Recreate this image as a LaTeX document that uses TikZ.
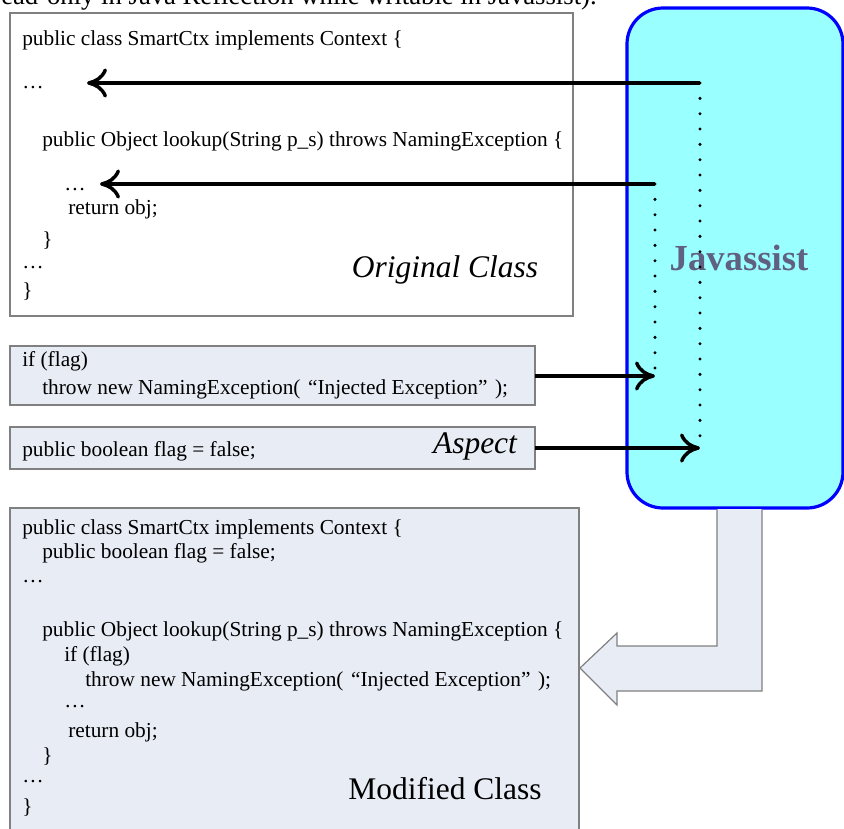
\documentclass[tikz,border=0pt]{standalone}
\usepackage{fontspec}
\setmainfont{Liberation Serif}
\usetikzlibrary{arrows.meta}
\definecolor{boxfill}{RGB}{232,236,245}
\definecolor{boxline}{RGB}{128,128,128}
\definecolor{jfill}{RGB}{153,255,255}
\definecolor{jline}{RGB}{0,0,255}
\definecolor{jtext}{RGB}{96,96,128}
\tikzset{
  code/.style={anchor=base west,inner sep=0pt,font=\fontsize{16}{19}\selectfont},
  biglabel/.style={anchor=base,inner sep=0pt,font=\fontsize{23.6}{28}\selectfont},
  classbox/.style={draw=boxline,line width=0.9pt},
  ptr/.style={line width=2.6pt,-{Computer Modern Rightarrow[length=15pt,width=22pt,line width=2.6pt]}},
  dotline/.style={line width=2.5pt,line cap=round,dash pattern=on 0pt off 11.5pt},
}
\begin{document}
\begin{tikzpicture}[x=0.75pt,y=-0.75pt]
\useasboundingbox (0,0) rectangle (844,829);
% cut caption at the top
\node[anchor=base west,inner sep=0pt,font=\fontsize{20}{24}\selectfont] (cap) at (1,4) {ead-only in Java Reflection while writable in Javassist).};
% boxes
\draw[classbox,fill=white] (10,13) rectangle (573,316);
\node[inner sep=0pt,minimum width=563*0.75pt] (orig) at (291.5,164) {};
\draw[jline,fill=jfill,line width=2.4pt,rounded corners=27pt] (627,8) rectangle (843,508);
\node[inner sep=0pt,text=jtext,font=\fontsize{27.5}{30}\selectfont\bfseries] (jav) at (739,258) {Javassist};
\draw[classbox,fill=boxfill] (10,346) rectangle (535,405);
\node[inner sep=0pt,minimum width=525*0.75pt,minimum height=59*0.75pt] (asp1) at (272.5,375.5) {};
\draw[classbox,fill=boxfill] (10,427) rectangle (535,469);
\node[inner sep=0pt,minimum width=525*0.75pt,minimum height=42*0.75pt] (asp2) at (272.5,448) {};
\draw[classbox,fill=boxfill] (10,508) rectangle (579,840);
\node[inner sep=0pt,minimum width=569*0.75pt,minimum height=321*0.75pt] (mod) at (294.5,668.5) {};
% block arrow
\draw[draw=boxline,line width=0.9pt,fill=boxfill,line join=miter]
  (717,509) -- (717,646) -- (617,646) -- (617,633) -- (580,668) -- (617,705) -- (617,691) -- (762,691) -- (762,509);
% original class text
\node[code] (o1) at (22,45) {public class SmartCtx implements Context \{};
\node[code] (o2) at (22,88) {…};
\node[code] (o3) at (42,146) {public Object lookup(String p\_s) throws NamingException \{};
\node[code] (o4) at (64,190) {…};
\node[code] (o5) at (68,214) {return obj;};
\node[code] (o6) at (42,246) {\}};
\node[code] (o7) at (22,268) {…};
\node[code] (o8) at (22,297) {\}};
\node[biglabel,font=\fontsize{23.6}{28}\selectfont\itshape] (olab) at (445,277) {Original Class};
% aspect text
\node[code] (a1) at (22,366) {if (flag)};
\node[code] (a2) at (42,394) {throw new NamingException(\hspace{0.35em}“Injected Exception”\hspace{0.35em});};
\node[code] (a3) at (22,456) {public boolean flag = false;};
\node[biglabel,font=\fontsize{23.6}{28}\selectfont\itshape] (alab) at (475,453) {Aspect};
% modified class text
\node[code] (m1) at (22,534) {public class SmartCtx implements Context \{};
\node[code] (m2) at (42,558) {public boolean flag = false;};
\node[code] (m3) at (22,582) {…};
\node[code] (m4) at (42,636) {public Object lookup(String p\_s) throws NamingException \{};
\node[code] (m5) at (64,661) {if (flag)};
\node[code] (m6) at (85,686) {throw new NamingException(\hspace{0.35em}“Injected Exception”\hspace{0.35em});};
\node[code] (m7) at (64,707) {…};
\node[code] (m8) at (68,737) {return obj;};
\node[code] (m9) at (42,762) {\}};
\node[code] (m10) at (22,782) {…};
\node[code] (m11) at (22,813) {\}};
\node[biglabel] (mlab) at (445,799) {Modified Class};
% connector coordinates
\coordinate (jA) at (700,83);
\coordinate (jB) at (655,184);
\coordinate (jC) at (655,376);
\coordinate (jD) at (700,448);
\coordinate (tA) at (87,83);
\coordinate (tB) at (100,184);
% connectors
\draw[dotline] (jA) -- (jD);
\draw[dotline] (jB) -- (jC);
\draw[ptr] (jA) -- (tA);
\draw[ptr] (jB) -- (tB);
\draw[ptr] (asp1.east |- jC) -- (jC);
\draw[ptr] (asp2.east |- jD) -- (jD);
\end{tikzpicture}
\end{document}
